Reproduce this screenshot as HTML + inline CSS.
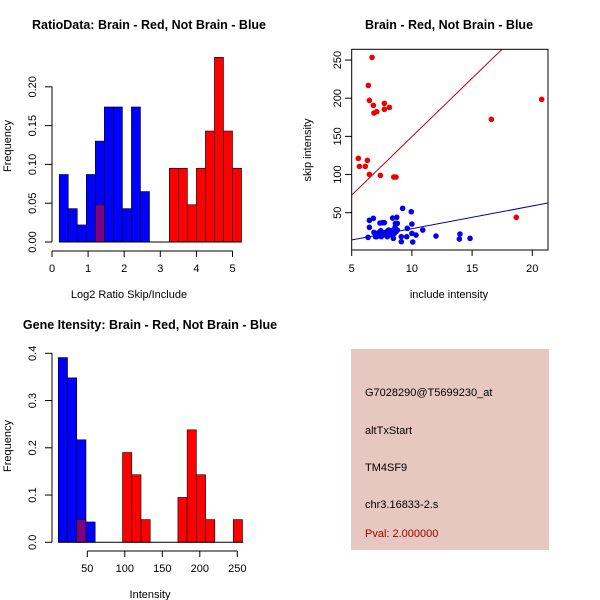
<!DOCTYPE html>
<html><head><meta charset="utf-8"><style>
body{margin:0;background:#fff}
svg{display:block;font-family:"Liberation Sans",sans-serif}
</style></head><body>
<svg id="s" width="600" height="600" viewBox="0 0 600 600">
<rect width="600" height="600" fill="#fff"/>
<text x="149" y="29" font-size="12.5" font-weight="bold" text-anchor="middle">RatioData: Brain - Red, Not Brain - Blue</text>
<text x="449" y="29" font-size="12.5" font-weight="bold" text-anchor="middle">Brain - Red, Not Brain - Blue</text>
<text x="150" y="329" font-size="12.5" font-weight="bold" text-anchor="middle">Gene Itensity: Brain - Red, Not Brain - Blue</text>
<g id="p1"></g>
<g id="p2"></g>
<g id="p3"></g>
<g>
<rect x="351" y="349" width="198" height="201" fill="#e6c8c0"/>
<text x="365" y="396" font-size="11">G7028290@T5699230_at</text>
<text x="365" y="434" font-size="11">altTxStart</text>
<text x="365" y="471" font-size="11">TM4SF9</text>
<text x="365" y="508" font-size="11">chr3.16833-2.s</text>
<text x="365" y="537" font-size="11" fill="#a00000">Pval: 2.000000</text>
</g>
</svg>
<script>
// Ratio histogram data
const ratioBlueStarts=[0.2,0.45,0.7,0.95,1.2,1.45,1.7,1.95,2.2,2.45];
const ratioBlueFreq=[0.087,0.043,0.022,0.087,0.130,0.174,0.174,0.043,0.174,0.065];
const ratioRedStarts=[1.2,3.25,3.5,3.75,4.0,4.25,4.5,4.75,5.0];
const ratioRedFreq=[0.048,0.095,0.095,0.048,0.095,0.143,0.238,0.143,0.095];
const ratioBinWidth=0.25;
const ratioXTicks=[0,1,2,3,4,5];
const ratioYTicks=["0.00","0.05","0.10","0.15","0.20"];
// Scatter data
const redX=[6.69,6.38,6.47,6.80,6.85,7.08,7.71,7.71,8.13,5.55,5.64,6.13,6.30,6.47,7.38,8.49,8.68,16.6,20.78,18.67];
const redY=[253.5,216.8,197.2,190.6,180.6,182.3,193.2,185.4,188.0,121.2,110.7,110.7,118.6,100.2,98.9,96.7,96.7,172.3,198.5,43.9];
const blueX=[6.47,6.80,6.47,6.36,6.85,7.08,7.35,7.57,7.68,7.71,7.41,7.46,7.91,7.96,8.07,8.18,8.32,8.40,8.46,8.54,8.60,8.63,8.68,8.74,8.79,8.79,9.12,9.12,9.23,9.57,9.62,9.95,10.0,10.0,10.07,10.34,10.9,12.0,13.94,13.99,14.83,6.97,7.24,7.8,8.24,8.46];
const blueY=[40.0,42.6,30.8,17.7,24.2,18.6,36.5,36.9,23.8,36.9,26.4,18.6,25.1,18.6,27.3,26.0,20.7,43.0,16.4,22.9,30.8,36.0,25.1,43.9,36.0,27.3,12.0,18.6,55.7,18.6,29.5,51.3,35.2,22.9,11.6,20.7,27.3,19.4,15.5,22.0,16.4,18.6,23.8,20.7,21.6,27.3];
const redLine=[-3.4,15.3]; // intercept, slope
const blueLine=[-0.6,2.97];
const scatterXTicks=[5,10,15,20];
const scatterYTicks=[50,100,150,200,250];
// Intensity histogram data
const intBlueStarts=[11.3,23.6,35.9,48.2];
const intBlueFreq=[0.391,0.348,0.217,0.043];
const intRedStarts=[35.9,97,109.3,121.6,170.8,183.1,195.4,207.7,244.6];
const intRedFreq=[0.048,0.190,0.143,0.048,0.095,0.238,0.143,0.048,0.048];
const intBinWidth=12.3;
const intXTicks=[50,100,150,200,250];
const intYTicks=["0.0","0.1","0.2","0.3","0.4"];

const NS="http://www.w3.org/2000/svg";
function mk(p,t,a){const e=document.createElementNS(NS,t);for(const k in a)e.setAttribute(k,a[k]);p.appendChild(e);return e;}

// Panel 1
(function(){
const g=document.getElementById('p1');
const X=v=>52+v*36.1, Y=v=>242-v*776;
ratioBlueStarts.forEach((s,i)=>{const r=mk(g,'rect',{x:X(s),y:Y(ratioBlueFreq[i]),width:X(s+ratioBinWidth)-X(s),height:Y(0)-Y(ratioBlueFreq[i]),fill:'#0000ff',stroke:'#000','stroke-width':0.6});

});
ratioRedStarts.forEach((s,i)=>{const r=mk(g,'rect',{x:X(s),y:Y(ratioRedFreq[i]),width:X(s+ratioBinWidth)-X(s),height:Y(0)-Y(ratioRedFreq[i]),fill:i==0?'#7f0080':'#ff0000',stroke:'#000','stroke-width':0.6});

});
mk(g,'line',{x1:X(ratioBlueStarts[0]),x2:X(5.25),y1:Y(0),y2:Y(0),stroke:'#000'});
mk(g,'line',{x1:X(0),x2:X(5),y1:251,y2:251,stroke:'#000'});
ratioXTicks.forEach(v=>{mk(g,'line',{x1:X(v),x2:X(v),y1:251,y2:257,stroke:'#000'});const t=mk(g,'text',{x:X(v),y:272,'font-size':11,'text-anchor':'middle'});t.textContent=v;

});
mk(g,'line',{x1:52,x2:52,y1:Y(0),y2:Y(0.2),stroke:'#000'});
ratioYTicks.forEach(v=>{const y=Y(+v);mk(g,'line',{x1:45,x2:52,y1:y,y2:y,stroke:'#000'});const t=mk(g,'text',{x:36,y:y,'font-size':11,'text-anchor':'middle',transform:`rotate(-90 36 ${y})`});t.textContent=v;

});
let t=mk(g,'text',{x:129,y:298,'font-size':11,'text-anchor':'middle'});t.textContent='Log2 Ratio Skip/Include';

t=mk(g,'text',{x:11,y:146,'font-size':11,'text-anchor':'middle',transform:'rotate(-90 11 146)'});t.textContent='Frequency';

})();

// Panel 2
(function(){
const g=document.getElementById('p2');
const X=v=>351.7+(v-5)*12.04, Y=v=>212.7-(v-50)*0.7633;
mk(g,'defs',{}).innerHTML='<clipPath id="c2"><rect x="351.7" y="49.3" width="196.3" height="200.7"/></clipPath>';
const lg=mk(g,'g',{'clip-path':'url(#c2)'});
mk(lg,'line',{x1:X(4),x2:X(22),y1:Y(redLine[0]+redLine[1]*4),y2:Y(redLine[0]+redLine[1]*22),stroke:'#c00000'});
mk(lg,'line',{x1:X(4),x2:X(22),y1:Y(blueLine[0]+blueLine[1]*4),y2:Y(blueLine[0]+blueLine[1]*22),stroke:'#0000a0'});
redX.forEach((x,i)=>{const c=mk(g,'circle',{cx:X(x),cy:Y(redY[i]),r:2.8,fill:'#ee0000'});

});
blueX.forEach((x,i)=>{const c=mk(g,'circle',{cx:X(x),cy:Y(blueY[i]),r:2.8,fill:'#0000ee'});

});
mk(g,'rect',{x:351.7,y:49.3,width:196.3,height:200.7,fill:'none',stroke:'#000'});
scatterXTicks.forEach(v=>{mk(g,'line',{x1:X(v),x2:X(v),y1:250,y2:256,stroke:'#000'});const t=mk(g,'text',{x:X(v),y:272,'font-size':11,'text-anchor':'middle'});t.textContent=v;

});
scatterYTicks.forEach(v=>{const y=Y(v);mk(g,'line',{x1:345,x2:351.7,y1:y,y2:y,stroke:'#000'});const t=mk(g,'text',{x:341,y:y,'font-size':11,'text-anchor':'middle',transform:`rotate(-90 341 ${y})`});t.textContent=v;

});
let t=mk(g,'text',{x:449,y:298,'font-size':11,'text-anchor':'middle'});t.textContent='include intensity';

t=mk(g,'text',{x:311,y:150,'font-size':11,'text-anchor':'middle',transform:'rotate(-90 311 150)'});t.textContent='skip intensity';

})();

// Panel 3
(function(){
const g=document.getElementById('p3');
const X=v=>87.3+(v-50)*0.75, Y=v=>542.3-v*472.5;
intBlueStarts.forEach((s,i)=>{const r=mk(g,'rect',{x:X(s),y:Y(intBlueFreq[i]),width:X(s+intBinWidth)-X(s),height:Y(0)-Y(intBlueFreq[i]),fill:'#0000ff',stroke:'#000','stroke-width':0.6});

});
intRedStarts.forEach((s,i)=>{const r=mk(g,'rect',{x:X(s),y:Y(intRedFreq[i]),width:X(s+intBinWidth)-X(s),height:Y(0)-Y(intRedFreq[i]),fill:i==0?'#7f0080':'#ff0000',stroke:'#000','stroke-width':0.6});

});
mk(g,'line',{x1:X(intBlueStarts[0]),x2:X(258),y1:Y(0),y2:Y(0),stroke:'#000'});
mk(g,'line',{x1:X(50),x2:X(250),y1:551,y2:551,stroke:'#000'});
intXTicks.forEach(v=>{mk(g,'line',{x1:X(v),x2:X(v),y1:551,y2:557,stroke:'#000'});const t=mk(g,'text',{x:X(v),y:572,'font-size':11,'text-anchor':'middle'});t.textContent=v;

});
mk(g,'line',{x1:52,x2:52,y1:Y(0),y2:Y(0.4),stroke:'#000'});
intYTicks.forEach(v=>{const y=Y(+v);mk(g,'line',{x1:45,x2:52,y1:y,y2:y,stroke:'#000'});const t=mk(g,'text',{x:36,y:y,'font-size':11,'text-anchor':'middle',transform:`rotate(-90 36 ${y})`});t.textContent=v;

});
let t=mk(g,'text',{x:150,y:598,'font-size':11,'text-anchor':'middle'});t.textContent='Intensity';

t=mk(g,'text',{x:11,y:446,'font-size':11,'text-anchor':'middle',transform:'rotate(-90 11 446)'});t.textContent='Frequency';

})();
</script>
</body></html>
